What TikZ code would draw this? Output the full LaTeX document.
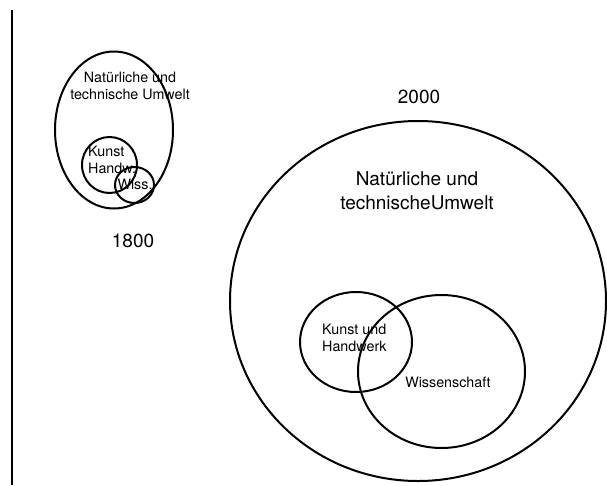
\documentclass[tikz,border=0pt]{standalone}
\usepackage{fontspec}
\setmainfont{TeX Gyre Heros}
\usetikzlibrary{shapes.geometric}
\begin{document}
\begin{tikzpicture}[x=1pt,y=-1pt,
  ring/.style={draw,line width=2pt,ellipse,inner sep=0pt},
  smalltxt/.style={font=\fontsize{14.3}{16.5}\selectfont,inner sep=0pt},
  bigtxt/.style={font=\fontsize{19}{24}\selectfont,inner sep=0pt}]
\useasboundingbox (0,0) rectangle (607,485);
\coordinate (lt) at (12,10);
\coordinate (lb) at (12,485);
\draw[line width=2pt] (lt) -- (lb);
% 1800
\node[ring,minimum width=118pt,minimum height=157pt] (e1) at (114,130) {};
\node[ring,minimum width=55pt,minimum height=56pt] (k1) at (109.5,165) {};
\node[ring,minimum width=39pt,minimum height=36pt] (w1) at (134.5,185) {};
\node[smalltxt,align=center] (t1) at (130,86) {Natürliche und\\technische Umwelt};
\node[smalltxt,align=left,anchor=west] (kt1) at (88,160) {Kunst\\Handw.};
\node[smalltxt] (wt1) at (135,184) {Wiss.};
\node[bigtxt] (y1) at (133,241) {1800};
% 2000
\node[ring,minimum width=376pt,minimum height=360pt] (e2) at (418,301) {};
\node[ring,minimum width=112pt,minimum height=100pt] (k2) at (356,342) {};
\node[ring,minimum width=167pt,minimum height=153pt] (w2) at (441.5,371.5) {};
\node[bigtxt] (y2) at (419,97) {2000};
\node[bigtxt,align=center] (t2) at (417,191) {Natürliche und\\technischeUmwelt};
\node[smalltxt,align=left,anchor=west] (kt2) at (322,338) {Kunst und\\Handwerk};
\node[smalltxt] (wt2) at (448,382) {Wissenschaft};
\end{tikzpicture}
\end{document}
